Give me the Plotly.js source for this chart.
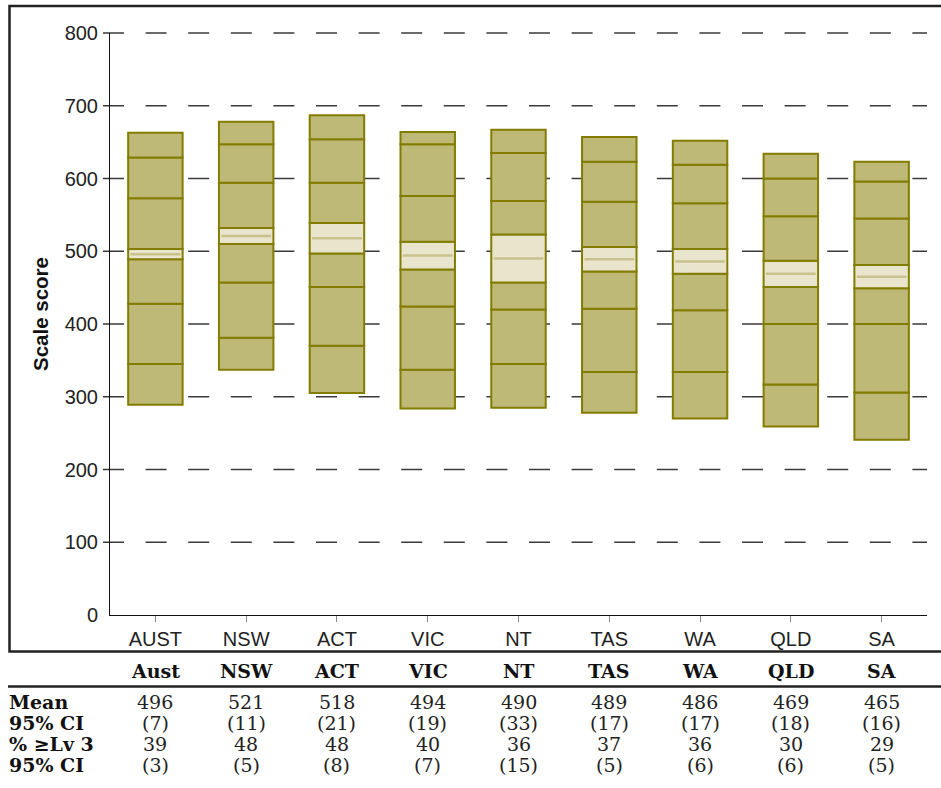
<!DOCTYPE html>
<html>
<head>
<meta charset="utf-8">
<script src="https://cdn.plot.ly/plotly-3.0.1.min.js"></script>
<style>
  html, body { margin: 0; padding: 0; background: #ffffff; }
  #chart { width: 941px; height: 788px; }
</style>
</head>
<body>
<div id="chart"></div>
<script>
// ---- Data ----
const categories   = ['AUST', 'NSW', 'ACT', 'VIC', 'NT', 'TAS', 'WA', 'QLD', 'SA'];
const tableHeaders = ['Aust', 'NSW', 'ACT', 'VIC', 'NT', 'TAS', 'WA', 'QLD', 'SA'];
const p5   = [289, 337, 305, 284, 285, 278, 270, 259, 241];
const p10  = [345, 381, 370, 337, 345, 334, 334, 317, 306];
const p25  = [428, 457, 451, 424, 420, 421, 419, 400, 400];
const p75  = [573, 594, 594, 576, 569, 568, 566, 548, 545];
const p90  = [629, 647, 654, 647, 635, 623, 619, 600, 596];
const p95  = [663, 678, 687, 664, 667, 657, 652, 634, 623];
const means     = [496, 521, 518, 494, 490, 489, 486, 469, 465];
const meanCI    = [7, 11, 21, 19, 33, 17, 17, 18, 16];
const pctLevel3 = [39, 48, 48, 40, 36, 37, 36, 30, 29];
const pctCI     = [3, 5, 8, 7, 15, 5, 6, 6, 5];
const rowLabels = ['Mean', '95% CI', '% \u2265Lv 3', '95% CI'];
const yTicks    = [0, 100, 200, 300, 400, 500, 600, 700, 800];

// ---- Layout geometry ----
const W = 941, H = 788;
const M = { l: 110, r: 14, t: 33, b: 173 };
const PW = W - M.l - M.r, PH = H - M.t - M.b;
const YMAX = 800;
const px2x = px => (px - M.l) / PW;
const py2y = py => (H - M.b - py) / PH;

const FILL = '#bfb977', CREAM = '#e9e5cd', EDGE = '#827d00', MEANC = '#c7c18b';
const BAR_W = 0.6;

const ciLo = means.map((m, i) => m - meanCI[i]);
const ciHi = means.map((m, i) => m + meanCI[i]);

const segments = [
  [p5, p10, FILL], [p10, p25, FILL], [p25, ciLo, FILL], [ciLo, ciHi, CREAM],
  [ciHi, p75, FILL], [p75, p90, FILL], [p90, p95, FILL]
];

const traces = segments.map(([lo, hi, col]) => ({
  type: 'bar',
  x: categories,
  base: lo,
  y: hi.map((v, i) => v - lo[i]),
  width: BAR_W,
  marker: { color: col, line: { color: EDGE, width: 2 } },
  hoverinfo: 'skip',
  showlegend: false
}));

// mean line inside the confidence band
traces.push({
  type: 'scatter',
  mode: 'markers',
  x: categories,
  y: means,
  marker: { symbol: 'line-ew', size: 35.5, color: MEANC, line: { color: MEANC, width: 2.5 } },
  hoverinfo: 'skip',
  showlegend: false
});

// ---- Shapes: dashed gridlines (with tick stub left of axis), frame, header rule ----
const shapes = [];
yTicks.filter(v => v > 0).forEach(v => {
  shapes.push({
    type: 'line', xref: 'paper', yref: 'paper', layer: 'below',
    x0: px2x(103), x1: 1, y0: v / YMAX, y1: v / YMAX,
    line: { color: '#3a3a3a', width: 1.6, dash: '21px,21.6px' }
  });
});
shapes.push({
  type: 'rect', xref: 'paper', yref: 'paper', layer: 'above',
  x0: px2x(9.5), x1: px2x(960), y0: py2y(651.5), y1: py2y(6),
  line: { color: '#222222', width: 2.5 }, fillcolor: 'rgba(0,0,0,0)'
});
shapes.push({
  type: 'line', xref: 'paper', yref: 'paper', layer: 'above',
  x0: px2x(8), x1: px2x(960), y0: py2y(686.5), y1: py2y(686.5),
  line: { color: '#222222', width: 2.5 }
});

// ---- Annotations: y title and table ----
const sans = "'Liberation Sans', Arial, sans-serif";
const serif = "'DejaVu Serif', 'Liberation Serif', serif";
const annotations = [];
annotations.push({
  text: '<b>Scale score</b>', xref: 'paper', yref: 'paper',
  x: px2x(41), y: py2y(314), textangle: -90, showarrow: false,
  xanchor: 'center', yanchor: 'middle',
  font: { family: sans, size: 20.5, color: '#111' }
});
const rowsY = [702, 723, 744, 765];
const headerY = 671;
tableHeaders.forEach((h, i) => {
  annotations.push({
    text: '<b>' + h + '</b>', xref: 'x', yref: 'paper', x: categories[i], y: py2y(headerY),
    showarrow: false, xanchor: 'center', yanchor: 'middle',
    font: { family: serif, size: 19, color: '#111' }
  });
});
const rowValues = [
  means.map(String),
  meanCI.map(v => '(' + v + ')'),
  pctLevel3.map(String),
  pctCI.map(v => '(' + v + ')')
];
rowLabels.forEach((lab, r) => {
  annotations.push({
    text: '<b>' + lab + '</b>', xref: 'paper', yref: 'paper', x: px2x(7), y: py2y(rowsY[r]),
    showarrow: false, xanchor: 'left', yanchor: 'middle',
    font: { family: serif, size: 19, color: '#111' }
  });
  rowValues[r].forEach((v, i) => {
    annotations.push({
      text: v, xref: 'x', yref: 'paper', x: categories[i], y: py2y(rowsY[r]),
      showarrow: false, xanchor: 'center', yanchor: 'middle',
      font: { family: serif, size: 19, color: '#222' }
    });
  });
});

const layout = {
  width: W, height: H,
  margin: M,
  paper_bgcolor: '#ffffff',
  plot_bgcolor: 'rgba(0,0,0,0)',
  barmode: 'overlay',
  showlegend: false,
  font: { family: sans, size: 20, color: '#222' },
  xaxis: {
    type: 'category',
    range: [-0.5, 8.5],
    showline: true, linecolor: '#111', linewidth: 1,
    ticks: 'outside', ticklen: 6, tickcolor: '#888', tickwidth: 1,
    showgrid: false, zeroline: false, fixedrange: true,
    tickfont: { family: sans, size: 20, color: '#222' }
  },
  yaxis: {
    range: [0, YMAX],
    tickvals: yTicks,
    showline: true, linecolor: '#111', linewidth: 1,
    ticks: 'outside', ticklen: 7, tickcolor: 'rgba(0,0,0,0)',
    showgrid: false, zeroline: false, fixedrange: true,
    tickfont: { family: sans, size: 20, color: '#222' }
  },
  shapes: shapes,
  annotations: annotations
};

Plotly.newPlot('chart', traces, layout, { displayModeBar: false, staticPlot: true });
</script>
</body>
</html>
